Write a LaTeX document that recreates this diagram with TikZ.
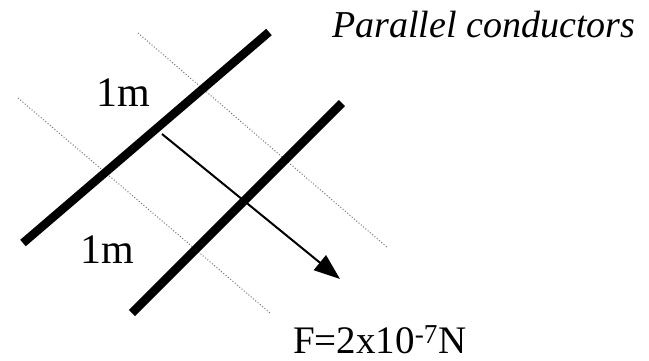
\documentclass[tikz,border=0pt]{standalone}
\usepackage{fontspec}
\setmainfont{Liberation Serif}
\usetikzlibrary{arrows.meta}
\begin{document}
\begin{tikzpicture}[x=1pt,y=-1pt,
  conductor/.style={line width=8.5pt,line cap=butt,black},
  guide/.style={line width=1pt,dotted,black!55},
  force/.style={line width=2pt,-{Triangle[length=26pt,width=19pt]}},
  lbl/.style={inner sep=0pt,anchor=base west,font=\fontsize{42}{48}\selectfont}]
\useasboundingbox (0,0) rectangle (649,360);
\coordinate (c1a) at (23,243);
\coordinate (c1b) at (269,32);
\coordinate (c2a) at (132,313);
\coordinate (c2b) at (342,103);
\coordinate (d1a) at (138,33);
\coordinate (d1b) at (388,248);
\coordinate (d2a) at (18,98);
\coordinate (d2b) at (270,313);
\coordinate (fa) at (162,134);
\coordinate (fb) at (340,279);
\draw[guide] (d1a) -- (d1b);
\draw[guide] (d2a) -- (d2b);
\draw[conductor] (c1a) -- (c1b);
\draw[conductor] (c2a) -- (c2b);
\draw[force] (fa) -- (fb);
\node[lbl] (t1) at (96,106) {1m};
\node[lbl] (t2) at (80,263) {1m};
\node[inner sep=0pt,anchor=base west,font=\fontsize{38}{44}\selectfont\itshape] (title) at (332,37) {Parallel conductors};
\node[inner sep=0pt,anchor=base west,font=\fontsize{39}{44}\selectfont] (ftext) at (293,353) {F=2x10\textsuperscript{-7}N};
\end{tikzpicture}
\end{document}
